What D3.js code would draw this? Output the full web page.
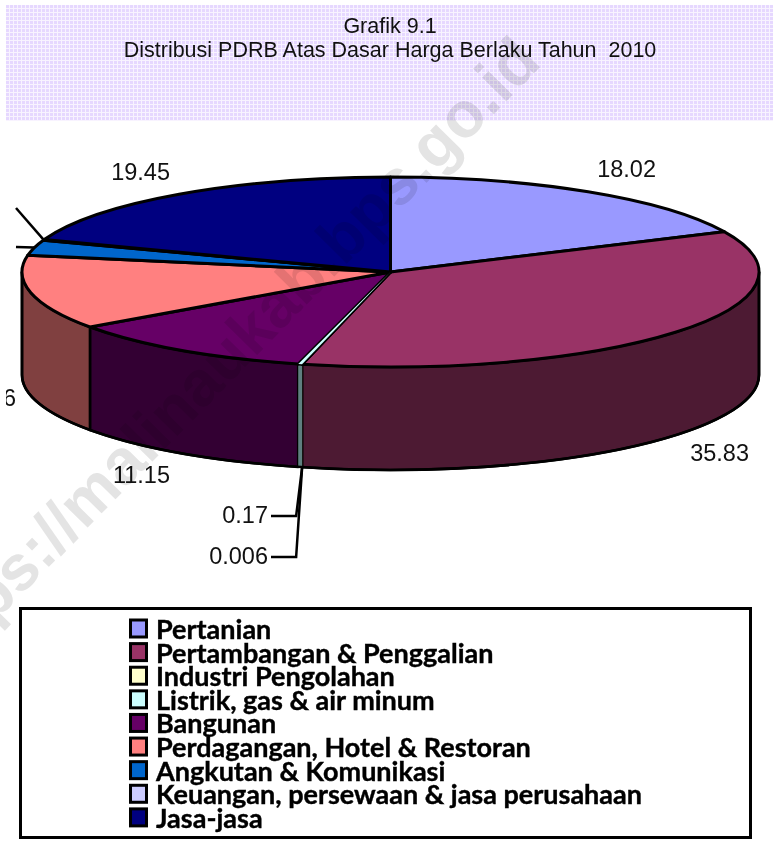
<!DOCTYPE html>
<html>
<head>
<meta charset="utf-8">
<script src="https://cdn.jsdelivr.net/npm/d3@7"></script>
<style>
html,body{margin:0;padding:0;background:#fff;overflow:hidden}
svg{display:block}
text{white-space:pre}
</style>
</head>
<body>
<svg id="c" width="773" height="841"></svg>
<script>
const categories = ["Pertanian","Pertambangan & Penggalian","Industri Pengolahan","Listrik, gas & air minum","Bangunan","Perdagangan, Hotel & Restoran","Angkutan & Komunikasi","Keuangan, persewaan & jasa perusahaan","Jasa-jasa"];
const values = [18.02,35.83,0.006,0.17,11.15,12.66,2.6,0.11,19.45];
const topColors = ["#9999ff","#993366","#ffffcc","#ccffff","#660066","#ff8080","#0066cc","#ccccff","#000080"];
const sideColors = ["#4d4d80","#4d1a33","#808066","#5f8080","#330033","#804040","#003366","#666680","#000040"];
const titleLines = ["Grafik 9.1","Distribusi PDRB Atas Dasar Harga Berlaku Tahun  2010"];
const watermark = "https://malinaukab.bps.go.id";

const svg = d3.select("#c");
const cx = 390.5, cy = 272, rx = 368.5, ry = 95, depth = 103;

// title band
const defs = svg.append("defs");
const pat = defs.append("pattern").attr("id","band").attr("width",4).attr("height",4).attr("patternUnits","userSpaceOnUse").attr("x",6).attr("y",5);
pat.append("rect").attr("width",4).attr("height",4).attr("fill","#e6d8ff");
pat.append("rect").attr("x",3).attr("width",1).attr("height",4).attr("fill","#f8f3ff");
pat.append("rect").attr("y",3).attr("width",4).attr("height",1).attr("fill","#f8f3ff");
defs.append("clipPath").attr("id","leftCut").append("rect").attr("x",6).attr("y",370).attr("width",40).attr("height",60);
svg.append("rect").attr("x",6).attr("y",5).attr("width",767).attr("height",116).attr("fill","url(#band)");
svg.selectAll("text.title").data(titleLines).join("text").attr("class","title")
  .attr("x",390).attr("y",(d,i)=>33+i*24).attr("text-anchor","middle")
  .attr("font-family","'Liberation Sans',Arial,sans-serif").attr("font-size",21.5).attr("fill","#111").text(d=>d);

// pie geometry
const pie = d3.pie().sort(null).value(d=>d);
const arcs = pie(values);
const px = a => cx + rx*Math.sin(a);
const py = a => cy - ry*Math.cos(a);
const g = svg.append("g");

// front walls
const lo = Math.PI/2, hi = 3*Math.PI/2;
const wallPath = (a0,a1) => {
  const large = (a1-a0)>Math.PI?1:0;
  return `M${px(a0)},${py(a0)}A${rx},${ry} 0 ${large} 1 ${px(a1)},${py(a1)}L${px(a1)},${py(a1)+depth}A${rx},${ry} 0 ${large} 0 ${px(a0)},${py(a0)+depth}Z`;
};
const visible = arcs.map((d,i)=>({i,a0:Math.max(d.startAngle,lo),a1:Math.min(d.endAngle,hi)})).filter(d=>d.a1>d.a0);
g.append("g").selectAll("path").data(visible.filter(d=>values[d.i]>=1)).join("path")
  .attr("d",d=>wallPath(d.a0,d.a1)).attr("fill",d=>sideColors[d.i]).attr("stroke","#000").attr("stroke-width",2.6).attr("stroke-linejoin","round");
g.append("g").selectAll("path").data(visible.filter(d=>values[d.i]<1)).join("path")
  .attr("d",d=>wallPath(d.a0,d.a1)).attr("fill",d=>sideColors[d.i]);
g.append("path").attr("d",`M${px(lo)},${py(lo)}L${px(lo)},${py(lo)+depth}A${rx},${ry} 0 0 1 ${px(hi)},${py(hi)+depth}L${px(hi)},${py(hi)}`)
  .attr("fill","none").attr("stroke","#000").attr("stroke-width",2.6);

// top slices
const arc = d3.arc().innerRadius(0).outerRadius(rx);
const topG = g.append("g").attr("transform",`translate(${cx},${cy}) scale(1,${ry/rx})`);
topG.selectAll("path.s").data(arcs).join("path").attr("class","s")
 .attr("d",arc).attr("fill",(d,i)=>topColors[i]).attr("stroke","#000").attr("stroke-width",3)
 .attr("stroke-linejoin","round").attr("vector-effect","non-scaling-stroke");
// the sliver of Listrik stays visible near the rim
topG.append("path").datum(arcs[3]).attr("d",arc).attr("fill",topColors[3]);

// leader lines
const mid = i => (arcs[i].startAngle+arcs[i].endAngle)/2;
const bx = px(mid(3)), by = py(mid(3))+depth;
const leaders = [
  [[bx+2,by],[bx-4,516],[271,516]],
  [[bx+2,by],[bx-4,557],[271,557]],
  [[px(mid(7)),py(mid(7))],[16,208]],
  [[px(mid(6)),py(mid(6))],[16,247]]
];
const ln = d3.line();
svg.append("g").selectAll("path").data(leaders).join("path").attr("d",ln).attr("fill","none").attr("stroke","#000").attr("stroke-width",2.5);

// value labels
const labelPos = [[656,177,0],[749,461,1],[268,564,2],[268,523,3],[170,483,4],[16,406,5],[170,180,8]];
svg.append("g").selectAll("text").data(labelPos).join("text")
  .attr("x",d=>d[0]).attr("y",d=>d[1]).attr("text-anchor","end")
  .attr("clip-path",d=>d[2]===5?"url(#leftCut)":null)
  .attr("font-family","'Liberation Sans',Arial,sans-serif").attr("font-size",23.5).attr("fill","#111")
  .text(d=>values[d[2]]);

// legend
svg.append("rect").attr("x",20.5).attr("y",608.5).attr("width",730).attr("height",229).attr("fill","#fff").attr("stroke","#000").attr("stroke-width",3);
const row = d3.scaleBand().domain(categories).range([619,831.5]);
const lg = svg.append("g").selectAll("g").data(categories).join("g").attr("transform",d=>`translate(0,${row(d)})`);
lg.append("rect").attr("x",130.5).attr("y",1).attr("width",16).attr("height",17).attr("fill",(d,i)=>topColors[i]).attr("stroke","#000").attr("stroke-width",3);
lg.append("text").attr("x",156).attr("y",20).attr("font-family","Lato,'Noto Sans',sans-serif").attr("font-weight",700).attr("font-size",27).attr("fill","#000").attr("stroke","#000").attr("stroke-width",0.4).text(d=>d);

// watermark
svg.append("text").attr("transform","translate(543,64) rotate(-45.5)").attr("text-anchor","end")
  .attr("font-family","'Liberation Sans',Arial,sans-serif").attr("font-weight",700).attr("font-size",64)
  .attr("fill","#e4e4e4").style("mix-blend-mode","multiply").text(watermark);
</script>
</body>
</html>
